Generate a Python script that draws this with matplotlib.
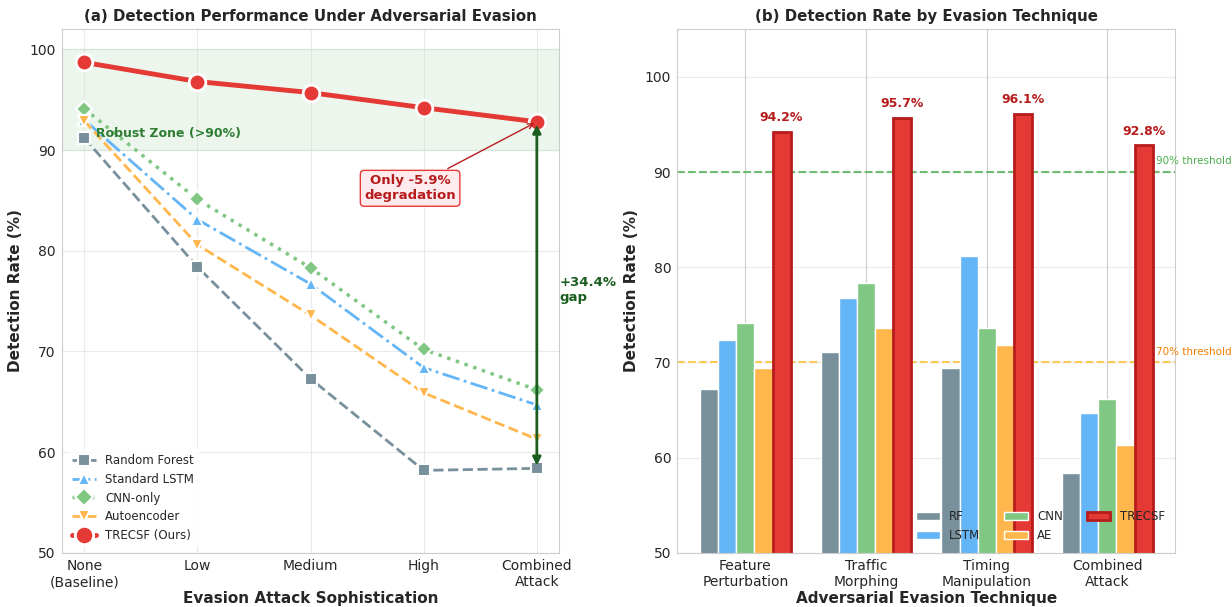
import numpy as np
import matplotlib.pyplot as plt
import seaborn as sns

sns.set_style("whitegrid")
plt.rcParams['font.family'] = ['DejaVu Sans']

levels = ["None\n(Baseline)", "Low", "Medium", "High", "Combined\nAttack"]
rf = [91.2, 78.4, 67.3, 58.2, 58.4]
lstm = [93.0, 83.1, 76.7, 68.4, 64.7]
cnn = [94.1, 85.1, 78.3, 70.2, 66.2]
ae = [92.9, 80.6, 73.6, 65.9, 61.3]
trecsf = [98.7, 96.8, 95.7, 94.2, 92.8]

techniques = ["Feature\nPerturbation", "Traffic\nMorphing", "Timing\nManipulation", "Combined\nAttack"]
rf_t = [67.2, 71.1, 69.4, 58.4]
lstm_t = [72.4, 76.8, 81.2, 64.7]
cnn_t = [74.1, 78.3, 73.6, 66.2]
ae_t = [69.4, 73.6, 71.8, 61.3]
trecsf_t = [94.2, 95.7, 96.1, 92.8]

c_rf = "#78909c"
c_lstm = "#64b5f6"
c_cnn = "#81c784"
c_ae = "#ffb74d"
c_tr = "#e53935"
dark_red = "#b71c1c"
dark_green = "#1b5e20"

fig, (ax1, ax2) = plt.subplots(1, 2, figsize=(12.32, 6.07), dpi=100)
fig.subplots_adjust(left=0.050, right=0.954, top=0.952, bottom=0.089, wspace=0.237)

# %% left panel
x = np.arange(len(levels))
ax1.axhspan(90, 100, color="#4caf50", alpha=0.1, zorder=0)
ax1.text(0.1, 91.3, "Robust Zone (>90%)", color="#2e7d32", fontsize=9, fontweight="bold")

ax1.plot(x, rf, ls="--", marker="s", color=c_rf, lw=2, ms=8, mec="white", mew=1.5, label="Random Forest")
ax1.plot(x, lstm, ls="-.", marker="^", color=c_lstm, lw=2, ms=8, mec="white", mew=1.5, label="Standard LSTM")
ax1.plot(x, cnn, ls=":", marker="D", color=c_cnn, lw=2.5, ms=8, mec="white", mew=1.5, label="CNN-only")
ax1.plot(x, ae, ls="--", marker="v", color=c_ae, lw=2, ms=8, mec="white", mew=1.5, label="Autoencoder")
ax1.plot(x, trecsf, ls="-", marker="o", color=c_tr, lw=3.5, ms=12, mec="white", mew=2, label="TRECSF (Ours)")

ax1.annotate("Only -5.9%\ndegradation", xy=(4, trecsf[4]), xytext=(2.88, 86.2),
             ha="center", va="center", fontsize=9.5, fontweight="bold", color=dark_red,
             bbox=dict(boxstyle="round,pad=0.3", fc="#ffebee", ec=c_tr, lw=1),
             arrowprops=dict(arrowstyle="->", color=dark_red, lw=1))
ax1.annotate("", xy=(4, rf[4]), xytext=(4, trecsf[4]),
             arrowprops=dict(arrowstyle="<|-|>", color=dark_green, lw=2, mutation_scale=12))
ax1.text(4.2, 76.1, "+34.4%\ngap", color=dark_green, fontsize=9.5, fontweight="bold",
         ha="left", va="center")

ax1.set_xticks(x)
ax1.set_xticklabels(levels, fontsize=10)
ax1.set_xlim(-0.2, 4.2)
ax1.set_ylim(50, 102)
ax1.tick_params(axis="both", labelsize=10, pad=1)
ax1.set_xlabel("Evasion Attack Sophistication", fontsize=11, fontweight="bold", labelpad=1)
ax1.set_ylabel("Detection Rate (%)", fontsize=11, fontweight="bold")
ax1.set_title("(a) Detection Performance Under Adversarial Evasion", fontsize=10.8, fontweight="bold")
ax1.grid(True, alpha=0.4)
ax1.legend(loc="lower left", fontsize=8.5, framealpha=0.9, edgecolor="none", markerscale=1.1)

# %% right panel
xt = np.arange(len(techniques))
w = 0.15
ax2.bar(xt - 2 * w, rf_t, w, color=c_rf, edgecolor="white", lw=1, label="RF", zorder=2)
ax2.bar(xt - w, lstm_t, w, color=c_lstm, edgecolor="white", lw=1, label="LSTM", zorder=2)
ax2.bar(xt, cnn_t, w, color=c_cnn, edgecolor="white", lw=1, label="CNN", zorder=2)
ax2.bar(xt + w, ae_t, w, color=c_ae, edgecolor="white", lw=1, label="AE", zorder=2)
bars = ax2.bar(xt + 2 * w, trecsf_t, w, color=c_tr, edgecolor=dark_red, lw=2, label="TRECSF", zorder=2)
for b, v in zip(bars, trecsf_t):
    ax2.text(b.get_x() + b.get_width() / 2, v + 0.8, f"{v}%", ha="center", va="bottom",
             fontsize=9, fontweight="bold", color=dark_red)

ax2.axhline(90, color="#4caf50", ls="--", lw=1.5, alpha=0.8, zorder=1)
ax2.axhline(70, color="#fbc02d", ls="--", lw=1.5, alpha=0.8, zorder=1)
ax2.text(3.4, 90.6, "90% threshold", color="#4caf50", fontsize=7.5, ha="left", va="bottom")
ax2.text(3.4, 70.6, "70% threshold", color="#f57c00", fontsize=7.5, ha="left", va="bottom")

ax2.set_xticks(xt)
ax2.set_xticklabels(techniques, fontsize=10)
ax2.set_ylim(50, 105)
ax2.tick_params(axis="both", labelsize=10, pad=1)
ax2.set_xlabel("Adversarial Evasion Technique", fontsize=11, fontweight="bold", labelpad=1)
ax2.set_ylabel("Detection Rate (%)", fontsize=11, fontweight="bold")
ax2.set_title("(b) Detection Rate by Evasion Technique", fontsize=10.8, fontweight="bold")
ax2.grid(True, axis="y", alpha=0.4)
ax2.grid(True, axis="x", color="#cccccc", alpha=1)
ax2.legend(loc="lower right", ncol=3, fontsize=8.5, frameon=False)

fig.savefig("out.png", dpi=100)
